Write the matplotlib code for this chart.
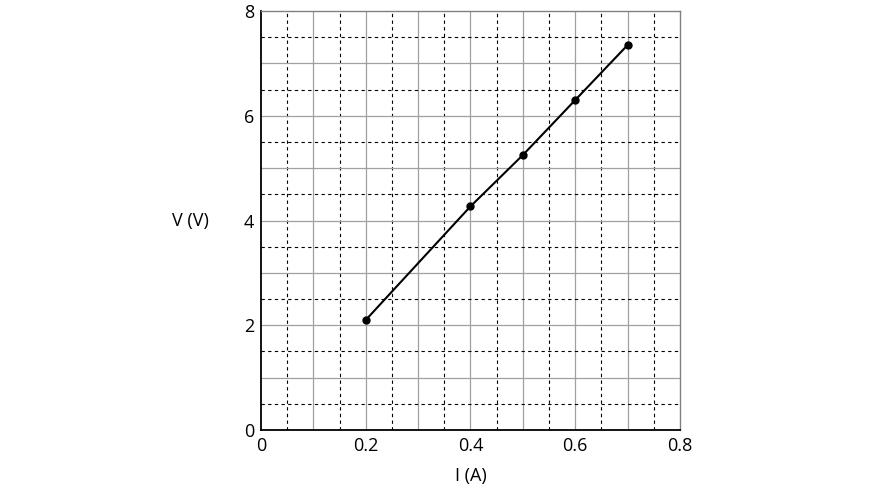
import numpy as np
import matplotlib.pyplot as plt

# datos
corriente = [0.2, 0.4, 0.5, 0.6, 0.7]
voltaje = [2.1, 4.27, 5.25, 6.3, 7.35]
xticks = [0, 0.2, 0.4, 0.6, 0.8]
xlabels = ["0", "0.2", "0.4", "0.6", "0.8"]
yticks = [0, 2, 4, 6, 8]

plt.rcParams['font.family'] = ['Open Sans', 'DejaVu Sans']

fig = plt.figure(figsize=(8.7, 4.9), dpi=100)
ax = fig.add_axes([0.3, 0.1224, 0.4816, 0.8552])
ax.set_xlim(0, 0.8)
ax.set_ylim(0, 8)

# rejilla: continua gris en 0.1 / 1, discontinua negra en 0.05 / 0.5
for x in np.arange(0.1, 0.8, 0.1):
    ax.axvline(x, color="#a0a0a0", lw=0.9, zorder=1)
for x in np.arange(0.05, 0.8, 0.1):
    ax.axvline(x, color="k", lw=0.8, ls=(0, (3, 3)), zorder=1)
for y in np.arange(1, 8, 1):
    ax.axhline(y, color="#a0a0a0", lw=0.9, zorder=1)
for y in np.arange(0.5, 8, 1):
    ax.axhline(y, color="k", lw=0.8, ls=(0, (3, 3)), zorder=1)

ax.plot(corriente, voltaje, color="k", lw=1.5, marker="o", ms=5, zorder=3)

for s in ["top", "right"]:
    ax.spines[s].set_color("#808080")
    ax.spines[s].set_linewidth(1)
for s in ["left", "bottom"]:
    ax.spines[s].set_color("k")
    ax.spines[s].set_linewidth(1.3)

ax.set_xticks(xticks)
ax.set_xticklabels(xlabels)
ax.set_yticks(yticks)
ax.tick_params(length=0, labelsize=13, pad=5)
ax.set_xlabel("I (A)", fontsize=13, labelpad=9)
ax.set_ylabel("V (V)", fontsize=13, rotation=0, labelpad=38, va="center")

plt.savefig("out.png", dpi=100)
